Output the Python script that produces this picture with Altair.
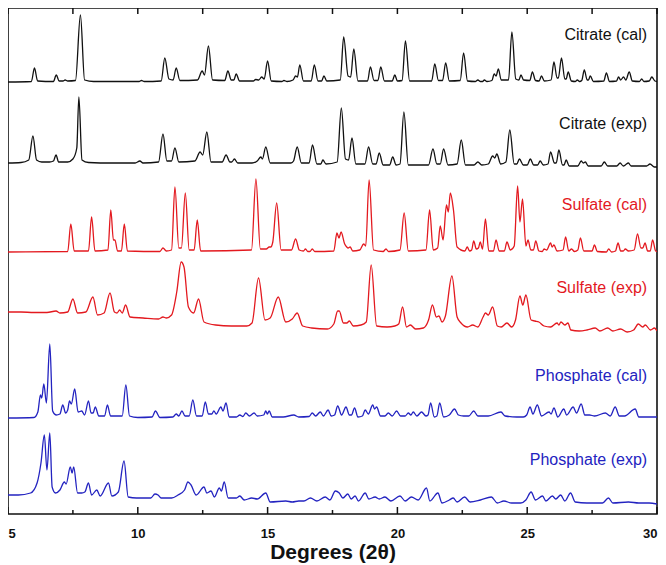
import altair as alt
import pandas as pd

# ---- data: (2theta in degrees, intensity above the trace baseline) ----
citrate_cal = [
    (5.0, 0), (5.9, 0.5), (6.02, 14), (6.14, 1), (6.75, 0.5), (6.86, 7), (6.97, 1), (7.12, 1), (7.2, 2), (7.3, 1),
    (7.6, 1.5), (7.79, 67), (7.95, 2), (8.3, 0.5), (10.05, 0.5), (10.14, 1.5), (10.25, 0.5), (10.9, 1), (11.04, 24),
    (11.2, 3), (11.36, 2), (11.48, 14), (11.62, 1.5), (12.3, 2), (12.48, 11), (12.57, 7), (12.72, 36), (12.88, 2),
    (13.35, 1.5), (13.47, 11), (13.6, 2), (13.7, 2), (13.79, 8), (13.92, 1), (14.45, 1), (14.54, 2.5), (14.66, 2),
    (14.77, 5), (14.87, 3), (15.0, 21), (15.14, 1), (15.55, 0.5), (15.63, 1.5), (15.75, 0.5), (15.98, 2), (16.08, 6),
    (16.15, 5), (16.24, 17), (16.38, 1), (16.68, 1), (16.8, 17), (16.94, 1), (17.08, 1), (17.17, 6), (17.28, 1),
    (17.8, 2), (17.93, 45), (18.1, 6), (18.2, 5), (18.32, 33), (18.48, 1), (18.85, 1), (18.96, 15), (19.1, 1.5),
    (19.25, 1.5), (19.36, 15), (19.5, 1), (19.8, 1), (19.9, 7), (20.0, 1), (20.18, 1.5), (20.31, 41), (20.47, 1),
    (21.32, 1), (21.44, 18), (21.58, 1.5), (21.74, 1.5), (21.86, 19), (22.0, 1), (22.42, 1.5), (22.55, 29), (22.7, 1),
    (23.0, 0.5), (23.1, 2), (23.2, 0.5), (23.28, 0.5), (23.35, 2), (23.45, 0.5), (23.64, 1.5), (23.73, 8), (23.8, 6),
    (23.89, 13), (24.0, 2), (24.28, 2), (24.41, 50), (24.56, 3), (24.68, 2), (24.76, 7), (24.86, 2), (25.1, 1.5),
    (25.2, 10), (25.32, 1.5), (25.46, 1), (25.55, 6), (25.66, 1), (25.92, 2), (26.03, 20), (26.15, 4), (26.2, 4),
    (26.32, 24), (26.45, 3), (26.5, 3), (26.58, 10), (26.7, 1), (26.85, 0.5), (26.93, 2), (27.02, 0.5), (27.1, 1.5),
    (27.2, 12), (27.31, 2), (27.36, 2), (27.43, 6), (27.55, 0.5), (27.95, 1), (28.05, 9), (28.17, 0.5), (28.44, 1),
    (28.52, 5), (28.6, 2), (28.71, 5), (28.8, 2), (28.93, 10), (29.05, 1), (29.32, 0.5), (29.41, 3), (29.5, 0.5),
    (29.7, 1), (29.8, 5), (29.92, 1), (30.0, 0.5),
]

citrate_exp = [
    (5.0, 0), (5.5, 0.5), (5.8, 3), (5.96, 27), (6.1, 3), (6.3, 1), (6.6, 1), (6.75, 2), (6.85, 8), (6.95, 1), (7.3, 1),
    (7.5, 4), (7.65, 15), (7.73, 66), (7.85, 3), (8.1, 0.5), (9.0, 0), (9.9, 0), (10.08, 2), (10.2, 0), (10.8, 1),
    (10.97, 29), (11.12, 2), (11.3, 2), (11.43, 15), (11.58, 1), (12.2, 2), (12.4, 11), (12.5, 8), (12.66, 31),
    (12.82, 1), (13.25, 1), (13.4, 8), (13.55, 1), (13.62, 1), (13.72, 4), (13.85, 0), (14.4, 0), (14.6, 2), (14.74, 6),
    (14.8, 4), (14.93, 16), (15.1, 0), (15.9, 0), (16.0, 2), (16.14, 16), (16.3, 0), (16.6, 0), (16.73, 18), (16.9, -1),
    (17.05, -1), (17.13, 3), (17.25, -1), (17.68, 1), (17.84, 55), (18.0, 4), (18.12, 3), (18.25, 25), (18.4, -1),
    (18.75, -1), (18.89, 16), (19.05, -1), (19.18, -1), (19.3, 10), (19.45, -2), (19.7, -2), (19.82, 6), (19.95, -2),
    (20.1, -1), (20.25, 51), (20.42, -2), (21.2, -2), (21.37, 14), (21.52, -1), (21.65, -1), (21.78, 14), (21.95, -2),
    (22.3, -1), (22.46, 23), (22.62, -2), (22.95, -2), (23.1, 1), (23.25, -2), (23.5, -1), (23.67, 7), (23.75, 5),
    (23.83, 9), (23.98, -1), (24.18, 1), (24.33, 33), (24.5, -1), (24.6, -1), (24.7, 4), (24.85, -2), (25.0, -2),
    (25.12, 4), (25.25, -2), (25.4, -2), (25.5, 2), (25.62, -2), (25.8, -1), (25.9, 11), (26.05, 0), (26.12, 0),
    (26.22, 13), (26.36, -2), (26.42, -2), (26.5, 3), (26.62, -3), (26.95, -3), (27.08, 2), (27.16, 0), (27.24, 1),
    (27.35, -3), (27.85, -3), (27.97, 1), (28.1, -3), (28.45, -3), (28.58, 0), (28.7, -3), (28.78, -2), (28.9, 0),
    (29.0, -3), (29.6, -3), (29.73, -1), (29.9, -4), (30.0, -4),
]

sulfate_cal = [
    (5.0, 0), (7.3, 0.5), (7.42, 28), (7.55, 1), (8.1, 1), (8.22, 35), (8.35, 1), (8.85, 2), (8.96, 42), (9.06, 12),
    (9.12, 12), (9.22, 1), (9.37, 1), (9.48, 28), (9.6, 1), (10.85, 0.5), (10.97, 4), (11.1, 1), (11.3, 2), (11.43, 65),
    (11.58, 4), (11.68, 4), (11.83, 59), (11.98, 2), (12.17, 2), (12.29, 32), (12.42, 1), (14.38, 2), (14.55, 73),
    (14.72, 3), (14.95, 3), (15.06, 5), (15.12, 5), (15.2, 10), (15.35, 49), (15.52, 2), (15.92, 2), (16.08, 13),
    (16.22, 2), (16.38, 1), (16.46, 3), (16.55, 0.5), (16.63, 0.5), (16.72, 3), (16.82, 0.5), (17.55, 1), (17.67, 19),
    (17.75, 14), (17.83, 20), (17.97, 8), (18.05, 5), (18.1, 4), (18.18, 5), (18.28, 1), (18.55, 2), (18.7, 8),
    (18.78, 6), (18.91, 72), (19.08, 2), (19.45, 0.5), (19.56, 3), (19.66, 0.5), (20.1, 2), (20.26, 39), (20.42, 1),
    (21.1, 2), (21.24, 42), (21.38, 2), (21.55, 4), (21.65, 26), (21.76, 12), (21.89, 47), (21.96, 40), (22.04, 59),
    (22.16, 42), (22.3, 5), (22.6, 1), (22.69, 5), (22.78, 1), (22.86, 2), (22.94, 11), (23.04, 3), (23.12, 4),
    (23.19, 10), (23.28, 3), (23.39, 33), (23.52, 1), (23.7, 1), (23.8, 12), (23.92, 1), (24.12, 1), (24.22, 10),
    (24.35, 2), (24.5, 6), (24.63, 66), (24.72, 30), (24.82, 53), (24.95, 6), (25.03, 12), (25.14, 2), (25.24, 2),
    (25.33, 11), (25.45, 1), (25.58, 0.5), (25.65, 3), (25.75, 2), (25.9, 9), (25.96, 5), (26.03, 7), (26.15, 1),
    (26.38, 2), (26.48, 15), (26.6, 1), (26.71, 3), (26.82, 0.5), (26.95, 2), (27.05, 14), (27.18, 1), (27.5, 1),
    (27.59, 7), (27.7, 0.5), (28.05, 0), (28.14, 3), (28.25, 0), (28.4, 1), (28.5, 9), (28.6, 1), (28.7, 1),
    (28.78, 3), (28.9, 1), (29.12, 2), (29.25, 18), (29.38, 4), (29.45, 4), (29.54, 9), (29.64, 1), (29.74, 1),
    (29.83, 12), (29.95, 1), (30.0, 0.5),
]

sulfate_exp = [
    (5.0, 0), (5.5, 0), (6.0, -0.5), (6.5, -0.5), (6.85, 1), (7.0, -1), (7.3, 0), (7.5, 13), (7.68, -1), (8.0, 0),
    (8.27, 15), (8.45, -3), (8.7, -1), (8.93, 19), (9.1, 0), (9.2, -1), (9.3, 2), (9.4, -1), (9.53, 7), (9.7, -5),
    (10.2, -6), (10.8, -7), (10.97, -5), (11.1, -6), (11.3, -3), (11.5, 20), (11.67, 50), (11.78, 45), (11.95, 5),
    (12.15, -1), (12.34, 13), (12.55, -10), (13.0, -13), (13.6, -14), (14.2, -14), (14.4, -11), (14.65, 34),
    (14.9, -8), (15.1, -6), (15.41, 15), (15.7, -10), (15.95, -7), (16.14, -1), (16.35, -14), (16.7, -16),
    (17.3, -17), (17.55, -12), (17.7, 1), (17.76, 1), (17.92, -11), (18.05, -11), (18.15, -9), (18.3, -14),
    (18.6, -13), (18.8, -10), (18.99, 47), (19.2, -14), (19.6, -15), (19.9, -14), (20.05, -12), (20.2, 5),
    (20.35, -15), (20.5, -13), (20.7, -17), (21.0, -16), (21.2, -8), (21.35, 7), (21.5, -5), (21.6, -4),
    (21.72, -10), (21.85, -4), (22.1, 36), (22.3, -5), (22.45, -11), (22.7, -15), (22.9, -13), (23.1, -15),
    (23.3, -5), (23.39, -1), (23.5, -3), (23.67, 5), (23.85, -14), (24.0, -15), (24.22, -11), (24.4, -15),
    (24.55, -8), (24.72, 16), (24.83, 7), (24.95, 17), (25.15, -8), (25.3, -9), (25.45, -10), (25.65, -14),
    (25.9, -15), (26.15, -11), (26.22, -13), (26.3, -10), (26.45, -13), (26.57, -11), (26.68, -18), (27.0, -19),
    (27.3, -18), (27.62, -16), (27.8, -19), (28.1, -16), (28.3, -19), (28.6, -17), (28.85, -20), (29.1, -18),
    (29.28, -12), (29.45, -15), (29.55, -13), (29.75, -18), (29.9, -16), (30.0, -19),
]

phosphate_cal = [
    (5.0, 0), (6.0, 0.5), (6.15, 6), (6.25, 23), (6.3, 20), (6.38, 34), (6.48, 15), (6.61, 74), (6.72, 7), (6.85, 3),
    (7.0, 4), (7.11, 13), (7.22, 5), (7.3, 8), (7.37, 17), (7.44, 14), (7.57, 29), (7.7, 6), (7.84, 7), (7.95, 3),
    (8.1, 17), (8.2, 5), (8.28, 5), (8.36, 11), (8.5, 2), (8.72, 2), (8.83, 13), (8.95, 2), (9.4, 2), (9.54, 33),
    (9.68, 2), (10.0, 0.5), (10.55, 1), (10.68, 7), (10.85, 0.5), (11.35, 1), (11.48, 4), (11.58, 2), (11.7, 7),
    (11.82, 2), (11.98, 2), (12.12, 18), (12.26, 2), (12.48, 2), (12.6, 16), (12.72, 4), (12.85, 4), (12.93, 7),
    (13.02, 4), (13.2, 11), (13.28, 7), (13.4, 15), (13.52, 1), (13.8, 1), (13.93, 3), (14.05, 1.5), (14.16, 5),
    (14.3, 2), (14.48, 5), (14.6, 2), (14.85, 3), (14.93, 7), (14.99, 4), (15.06, 7), (15.18, 1), (15.6, 1),
    (16.01, 3), (16.2, 1), (16.6, 1.5), (16.72, 5), (16.85, 2), (17.03, 6), (17.15, 2), (17.33, 8), (17.45, 2),
    (17.58, 3), (17.7, 12), (17.85, 3), (18.02, 11), (18.15, 3), (18.23, 3), (18.35, 10), (18.48, 1), (18.65, 2),
    (18.76, 8), (18.88, 4), (19.05, 13), (19.12, 9), (19.2, 11), (19.35, 2), (19.52, 2), (19.65, 5), (19.8, 2),
    (19.97, 7), (20.12, 2), (20.3, 2), (20.42, 5), (20.52, 3), (20.61, 6), (20.75, 2), (20.93, 6), (21.1, 2),
    (21.18, 3), (21.28, 15), (21.42, 1), (21.52, 2), (21.63, 15), (21.78, 1), (22.0, 3), (22.2, 9), (22.35, 3),
    (22.55, 2), (22.75, 2), (22.94, 7), (23.1, 2), (23.5, 2), (23.99, 6), (24.15, 2), (24.6, 1), (24.85, 1),
    (24.98, 3), (25.11, 11), (25.22, 4), (25.39, 13), (25.55, 2), (25.84, 6), (25.92, 4), (26.03, 10), (26.18, 1),
    (26.41, 9), (26.52, 3), (26.77, 11), (26.9, 5), (27.08, 14), (27.22, 3), (27.4, 3), (27.6, 2), (28.01, 5),
    (28.2, 2), (28.39, 11), (28.55, 2), (28.75, 2), (29.16, 9), (29.3, 1), (29.6, 1), (30.0, 1),
]

phosphate_exp = [
    (5.0, 0), (5.4, 0), (5.87, 2), (6.12, 12), (6.27, 32), (6.4, 60), (6.5, 25), (6.61, 62), (6.7, 8), (6.83, 2),
    (7.0, 5), (7.17, 13), (7.24, 11), (7.4, 28), (7.47, 22), (7.53, 28), (7.68, 2), (7.84, 2), (7.96, 3), (8.1, 12),
    (8.22, 0), (8.42, 5), (8.55, -1), (8.87, 12), (9.0, -1), (9.25, 3), (9.47, 34), (9.63, -2), (9.95, -3), (10.5, -3),
    (10.66, 1), (10.78, 0), (10.9, -3), (11.3, -3), (11.55, 0), (11.8, 5), (11.93, 13), (12.05, 10), (12.25, 0),
    (12.55, 8), (12.66, 2), (12.82, 4), (12.95, -2), (13.14, 7), (13.22, 4), (13.33, 13), (13.48, -3), (13.8, -3),
    (13.93, -1), (14.1, -5), (14.39, -3), (14.6, -4), (14.93, 2), (15.1, -7), (15.7, -6), (15.95, -7), (16.2, -6),
    (16.4, -6), (16.65, -3), (16.9, -6), (17.22, -2), (17.4, -5), (17.61, 4), (17.76, 2), (17.9, -3), (18.09, 1),
    (18.22, -4), (18.37, -1), (18.5, -6), (18.76, 2), (18.9, -4), (19.14, -2), (19.3, -4), (19.52, -2), (19.75, -6),
    (20.1, -1), (20.3, -6), (20.54, -2), (20.8, -5), (21.12, 7), (21.25, -6), (21.56, 2), (21.72, -8), (22.0, -5),
    (22.15, -3), (22.3, -7), (22.59, -2), (22.8, -7), (23.2, -5), (23.62, -2), (23.85, -8), (24.1, -6), (24.4, -8),
    (24.75, -8), (24.95, -5), (25.15, 3), (25.32, -5), (25.59, -1), (25.72, -6), (25.97, -1), (26.1, -4), (26.29, 0),
    (26.45, -6), (26.67, 2), (26.85, -7), (27.3, -8), (27.9, -8), (28.13, -3), (28.3, -8), (28.9, -7), (29.3, -8),
    (29.7, -8), (30.0, -9),
]

trace_names = ["Citrate (cal)", "Citrate (exp)", "Sulfate (cal)", "Sulfate (exp)", "Phosphate (cal)", "Phosphate (exp)"]
trace_data = [citrate_cal, citrate_exp, sulfate_cal, sulfate_exp, phosphate_cal, phosphate_exp]
major_ticks = [5, 10, 15, 20, 25, 30]
minor_ticks = [7.5, 12.5, 17.5, 22.5, 27.5]

# ---- layout / style (not data) ----
trace_colors = ["#111111", "#111111", "#e3191f", "#e3191f", "#2323c0", "#2323c0"]
trace_offsets = [432, 351, 262, 202, 96, 19]      # vertical stacking of the patterns
label_rise = [47, 39, 47, 24, 42, 35]             # label height above each baseline
LABEL_X = 29.62
W, H = 649, 506
MAJOR_LEN, MINOR_LEN, TOP_LEN = 7, 4, 6

rows = []
for name, pts, off in zip(trace_names, trace_data, trace_offsets):
    for i, (x, h) in enumerate(pts):
        rows.append({"deg": x, "y": off + h, "trace": name, "i": i})
df = pd.DataFrame(rows)

lab_df = pd.DataFrame({
    "label": trace_names,
    "deg": [LABEL_X] * len(trace_names),
    "y": [o + r for o, r in zip(trace_offsets, label_rise)],
})

# inward tick segments along the bottom and top frame (drawn in the y scale, 1 unit = 1 px)
tick_rows = []
for k, t in enumerate(major_ticks + minor_ticks):
    blen = MAJOR_LEN if t in major_ticks else MINOR_LEN
    tick_rows += [{"deg": t, "y": 0, "seg": f"b{k}"}, {"deg": t, "y": blen, "seg": f"b{k}"},
                  {"deg": t, "y": H, "seg": f"t{k}"}, {"deg": t, "y": H - TOP_LEN, "seg": f"t{k}"}]
tick_df = pd.DataFrame(tick_rows)

xscale = alt.Scale(domain=[5, 30], nice=False, zero=False)
yscale = alt.Scale(domain=[0, H], nice=False, zero=False)
color_scale = alt.Scale(domain=trace_names, range=trace_colors)

x_axis = alt.Axis(orient="bottom", values=major_ticks, format="d", ticks=False, tickSize=0,
                  domain=False, grid=False, labelFont="Liberation Sans", labelFontSize=13,
                  labelFontWeight="bold", labelColor="#111", labelPadding=13, labelFlush=True,
                  title="Degrees (2θ)", titleFont="Liberation Sans", titleFontSize=21,
                  titleFontWeight="bold", titleColor="#111", titlePadding=1)

ticks = alt.Chart(tick_df).mark_line(color="#111", strokeWidth=1.5).encode(
    x=alt.X("deg:Q", scale=xscale, axis=x_axis),
    y=alt.Y("y:Q", scale=yscale, axis=None),
    detail="seg:N",
)

lines = alt.Chart(df).mark_line(strokeWidth=1.3, clip=True, interpolate="monotone").encode(
    x=alt.X("deg:Q", scale=xscale, axis=x_axis),
    y=alt.Y("y:Q", scale=yscale, axis=None),
    color=alt.Color("trace:N", scale=color_scale, legend=None),
    detail="trace:N",
    order="i:Q",
)

labels = alt.Chart(lab_df).mark_text(align="right", baseline="middle", font="Liberation Sans",
                                     fontSize=16).encode(
    x=alt.X("deg:Q", scale=xscale, axis=x_axis),
    y=alt.Y("y:Q", scale=yscale, axis=None),
    color=alt.Color("label:N", scale=color_scale, legend=None),
    text="label:N",
)

chart = alt.layer(ticks, lines, labels).properties(
    width=W, height=H,
    autosize=alt.AutoSizeParams(type="none"),
    padding={"left": 0, "top": 0, "right": 1, "bottom": 51},
    background="white",
).configure_view(stroke="#111", strokeWidth=1.6)

chart.save("out.html", embed_options={"renderer": "svg", "actions": False})
